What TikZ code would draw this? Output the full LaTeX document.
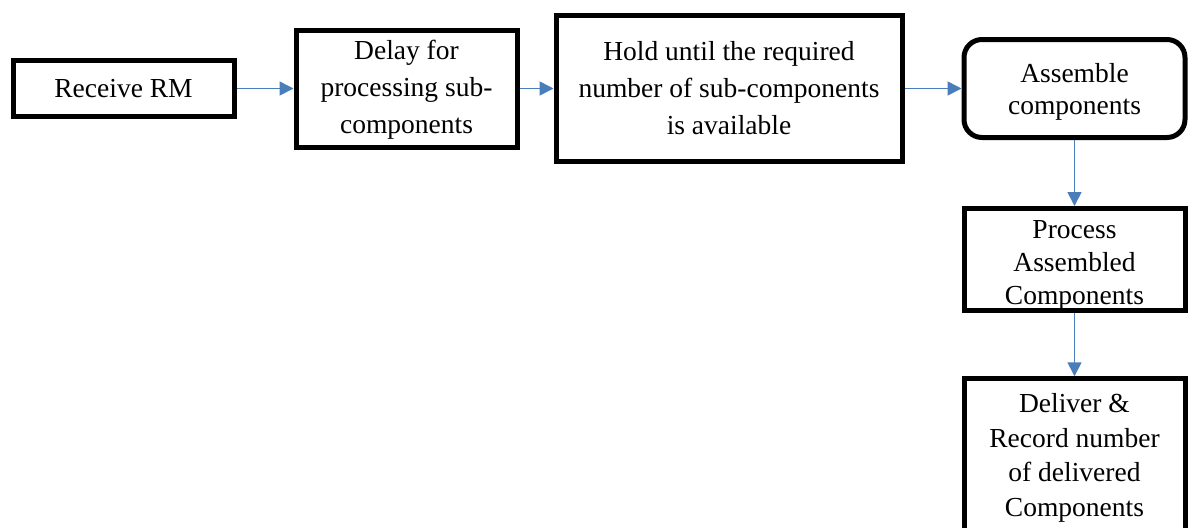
\documentclass[tikz,border=0pt]{standalone}
\usepackage{fontspec}
\setmainfont{Liberation Serif}
\usetikzlibrary{arrows.meta,positioning}

\definecolor{flowblue}{RGB}{74,126,187}
\newcommand{\topgap}[1]{\rule{0pt}{#1}}

\begin{document}
\begin{tikzpicture}[->,>={Triangle[length=7pt,width=7pt]},
  node distance=28.5pt,
  block/.style={draw,line width=2.5pt,minimum width=110.5pt,align=center,inner ysep=0pt,
    font=\fontsize{13.75}{18.5}\selectfont},
  tight/.style={font=\fontsize{13.75}{#1}\selectfont},
  roundblock/.style={block,rounded corners=9pt},
  flow/.style={color=flowblue,line width=0.8pt}]
 \useasboundingbox (0,0) rectangle (598pt,-263.5pt);

 \node[block,minimum height=28pt] (rm) at (61.75pt,-44.25pt) {Receive RM};
 \node[block,minimum height=58.5pt] (dl) [right=of rm] {\topgap{11pt}Delay for\\processing sub-\\components};
 \node[block,minimum width=173pt,minimum height=73pt] (hold) [right=17pt of dl]
   {Hold until the required\\number of sub-components\\is available};
 \node[roundblock,tight=16.3pt,minimum height=49pt] (asm) [right=of hold] {\topgap{13pt}Assemble\\components};
 \node[block,tight=16.6pt,minimum height=49pt] (proc) [below=33pt of asm] {\topgap{15pt}Process\\Assembled\\Components};
 \node[block,tight=17.3pt,minimum height=76pt] (dlv) [below=31.5pt of proc] {\topgap{12.5pt}Deliver \&\\Record number\\of delivered\\Components};

 \path[flow] (rm) edge (dl)
       (dl) edge (hold)
       (hold) edge (asm)
       (asm) edge (proc)
       (proc) edge (dlv);
\end{tikzpicture}
\end{document}
